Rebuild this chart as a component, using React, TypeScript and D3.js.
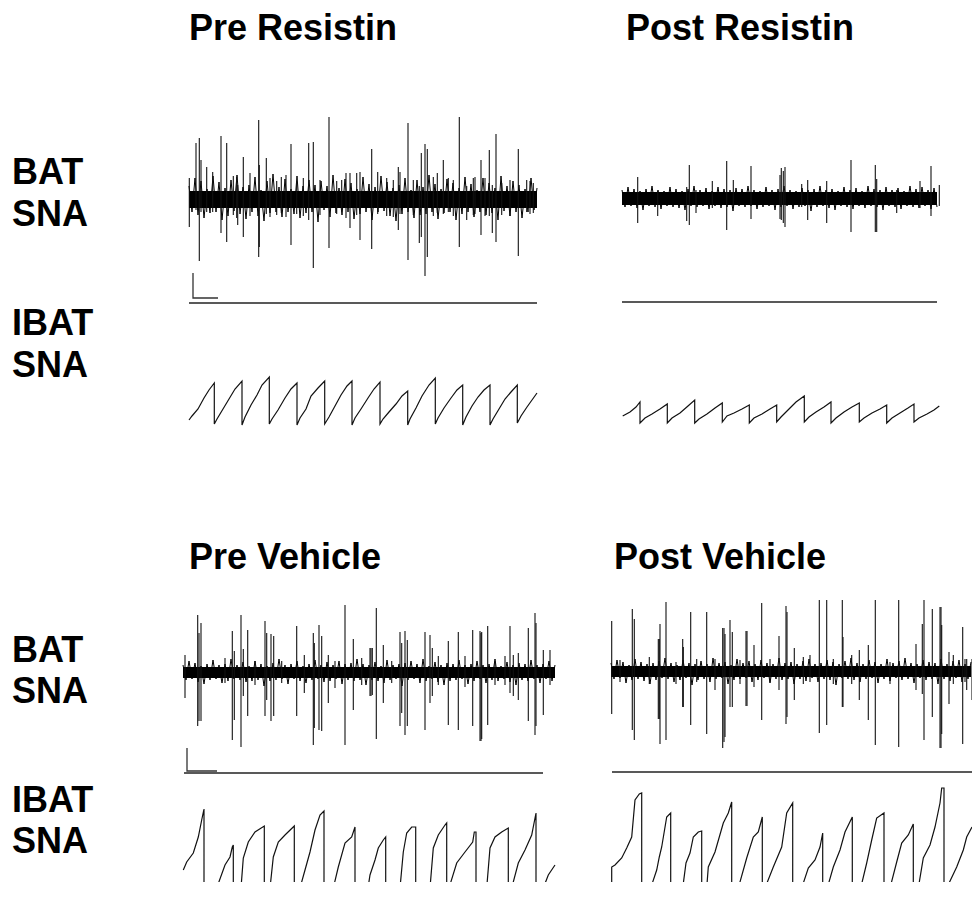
import React, { useEffect, useRef } from 'react';
import * as d3 from 'd3';

const W = 972;
const H = 899;
const DT = 0.3; // s between noise samples

const titles = ['Pre Resistin', 'Post Resistin', 'Pre Vehicle', 'Post Vehicle'];
const rowLabels = [['BAT', 'SNA'], ['IBAT', 'SNA']];

// BAT SNA background noise (µV), one sample every DT
const preResistinNoise = [
  14, -12, 22, -15, 19, -18, 11, -13, 24, -12,
  18, -20, 12, -16, 20, -11, 25, -14, 13, -19,
  15, -12, 23, -16, 10, -21, 19, -13, 26, -12,
  13, -17, 21, -12, 11, -14, 24, -18, 14, -13,
  20, -12, 15, -22, 19, -10, 14, -17, 25, -13,
  12, -15, 21, -12, 17, -19, 11, -14, 23, -12,
  16, -20, 13, -12, 24, -11, 18, -16, 12, -21,
  15, -14, 22, -12, 10, -18, 20, -15, 13, -14,
  25, -12, 16, -19, 11, -13, 21, -12, 17, -20,
  12, -14, 23, -12, 16, -17, 10, -12, 22, -15,
  17, -13, 12, -20, 24, -11, 14, -16, 19, -12,
  15, -18, 11, -12, 22, -10, 12,
];
const postResistinNoise = [
  9, -8, 12, -7, 10, -9, 8, -11, 10, -7,
  13, -8, 9, -10, 8, -7, 12, -8, 10, -9,
  8, -11, 10, -7, 13, -8, 9, -7, 11, -10,
  8, -7, 12, -9, 10, -8, 9, -12, 11, -7,
  10, -8, 13, -7, 9, -10, 8, -8, 12, -7,
  9, -11, 10, -8, 13, -7, 9, -10, 8, -8,
  11, -7, 9, -12, 10, -8, 13, -7, 9, -9,
  10, -11, 8, -7, 12, -8, 9, -10, 11, -7,
  8, -9, 13, -7, 10, -8, 9, -11, 12, -7,
  9, -8, 11, -10, 8, -7, 13, -8, 10, -9,
  12, -7, 9, -10, 11, -8,
];
const preVehicleNoise = [
  8, -7, 12, -6, 10, -9, 7, -11, 9, -7,
  13, -6, 8, -10, 9, -8, 14, -6, 8, -7,
  11, -9, 7, -8, 12, -7, 9, -13, 7, -8,
  10, -7, 14, -6, 8, -11, 9, -6, 12, -8,
  7, -10, 9, -7, 13, -6, 8, -9, 11, -8,
  8, -6, 12, -11, 9, -7, 10, -8, 14, -7,
  9, -12, 8, -7, 11, -8, 7, -10, 13, -7,
  8, -6, 9, -13, 10, -7, 12, -6, 9, -10,
  14, -8, 7, -6, 11, -9, 8, -12, 10, -8,
  9, -7, 13, -6, 8, -11, 9, -8, 12, -6,
  8, -10, 9, -7, 14, -8, 7, -6, 11, -9,
  8, -12, 10, -7, 9, -8, 13, -6, 8, -10,
  9, -6, 12, -8, 8,
];
const postVehicleNoise = [
  9, -7, 12, -6, 10, -11, 7, -8, 13, -7,
  10, -9, 8, -12, 9, -8, 11, -6, 14, -7,
  9, -10, 7, -8, 12, -6, 9, -13, 8, -8,
  11, -7, 8, -10, 14, -7, 9, -6, 10, -12,
  7, -8, 13, -7, 9, -6, 11, -10, 8, -8,
  12, -6, 9, -11, 8, -7, 14, -8, 9, -7,
  10, -12, 8, -7, 11, -9, 13, -6, 8, -10,
  9, -7, 12, -8, 10, -13, 8, -6, 11, -7,
  14, -8, 9, -10, 8, -7, 12, -6, 10, -11,
  8, -7, 13, -9, 9, -6, 11, -8, 14, -7,
  9, -11, 8, -6, 12, -8, 10, -7, 9, -12,
  13, -7, 8, -9, 11, -6, 12, -10, 8, -7,
  10,
];

// BAT SNA spikes [t (s), up (µV), down (µV)]
const preResistinSpikes = [
  [0.03, 22, 27], [0.7, 57, 10], [1.03, 62, 61], [1.2, 40, 12], [1.77, 33, 12],
  [2.37, 28, 12], [3.2, 64, 33], [3.77, 57, 42], [4.43, 24, 15], [4.77, 23, 18],
  [4.87, 15, 25], [5.43, 43, 37], [6.1, 27, 16], [6.97, 80, 57], [7.03, 35, 47],
  [7.73, 42, 14], [8.1, 22, 17], [8.77, 19, 15], [9.23, 23, 13], [9.7, 25, 17],
  [10.2, 56, 45], [10.77, 19, 14], [11.43, 22, 16], [11.97, 57, 20], [12.43, 58, 68],
  [13.1, 20, 15], [14.0, 83, 48], [14.77, 19, 14], [15.27, 20, 12], [15.7, 27, 18],
  [16.1, 27, 28], [16.77, 27, 15], [17.1, 28, 40], [18.27, 51, 49], [18.87, 28, 14],
  [19.77, 22, 16], [20.43, 20, 17], [20.93, 33, 30], [21.1, 28, 14], [21.9, 77, 60],
  [22.43, 20, 15], [23.03, 14, 43], [23.23, 47, 37], [23.6, 56, 76], [23.83, 51, 57],
  [24.43, 23, 16], [24.83, 27, 13], [25.43, 40, 14], [25.93, 22, 12], [26.43, 20, 16],
  [27.03, 83, 47], [27.77, 14, 20], [28.43, 22, 15], [28.6, 23, 14], [29.2, 40, 35],
  [29.6, 22, 16], [30.03, 50, 16], [30.33, 15, 33], [30.7, 66, 42], [31.27, 17, 15],
  [32.1, 20, 16], [32.93, 51, 56], [33.77, 20, 12], [34.1, 19, 14], [34.43, 17, 13],
];
const postResistinSpikes = [
  [1.57, 22, 24], [3.57, 8, 17], [6.47, 12, 22], [6.73, 34, 26], [7.4, 9, 14],
  [9.03, 18, 9], [10.47, 38, 31], [11.13, 19, 8], [12.9, 33, 20], [15.8, 24, 20],
  [15.93, 31, 21], [16.13, 28, 24], [16.3, 32, 28], [17.97, 15, 8], [18.57, 19, 21],
  [20.47, 18, 24], [22.9, 39, 33], [25.33, 34, 33], [25.47, 20, 33], [27.47, 9, 14],
  [29.8, 18, 9], [30.9, 33, 17], [31.73, 14, 7],
];
const preVehicleSpikes = [
  [0.2, 18, 25], [1.47, 58, 53], [1.6, 40, 48], [1.8, 50, 48], [4.2, 15, 10],
  [4.93, 42, 67], [5.13, 22, 47], [5.8, 58, 74], [6.03, 24, 23], [6.47, 43, 43],
  [7.2, 12, 12], [8.2, 52, 43], [8.37, 40, 27], [8.8, 39, 48], [9.07, 37, 43],
  [9.87, 12, 10], [11.37, 47, 43], [12.13, 18, 20], [13.03, 40, 72], [13.13, 30, 55],
  [13.6, 48, 57], [13.87, 37, 58], [14.53, 18, 30], [15.2, 12, 15], [16.2, 68, 72],
  [17.03, 34, 37], [17.87, 15, 12], [18.7, 25, 23], [18.8, 25, 23], [18.93, 25, 22],
  [19.33, 65, 66], [20.03, 28, 30], [20.87, 12, 10], [21.7, 41, 53], [21.87, 30, 40],
  [22.2, 42, 62], [22.43, 33, 53], [24.2, 41, 57], [24.7, 38, 30], [24.93, 25, 23],
  [25.53, 17, 12], [26.53, 32, 52], [27.53, 41, 57], [28.2, 17, 14], [28.97, 43, 53],
  [29.7, 42, 68], [29.8, 40, 68], [29.87, 41, 66], [30.47, 47, 52], [31.2, 12, 12],
  [32.2, 17, 12], [32.7, 47, 20], [33.03, 18, 23], [33.53, 20, 27], [34.53, 45, 48],
  [35.2, 60, 62], [35.3, 50, 53], [36.03, 23, 42], [36.7, 23, 12],
];
const postVehicleSpikes = [
  [0.07, 51, 42], [0.9, 12, 10], [2.13, 63, 58], [2.33, 53, 68], [3.83, 15, 12],
  [4.73, 33, 47], [4.83, 33, 47], [4.9, 48, 72], [5.5, 70, 68], [6.5, 10, 12],
  [7.17, 33, 35], [7.23, 25, 35], [7.97, 60, 53], [8.57, 13, 10], [9.57, 60, 62],
  [10.4, 13, 18], [11.17, 44, 76], [11.3, 44, 70], [11.4, 38, 65], [11.9, 52, 35],
  [12.13, 40, 35], [12.9, 12, 12], [13.5, 41, 34], [13.6, 41, 34], [14.3, 27, 15],
  [15.07, 69, 48], [15.9, 13, 10], [16.8, 36, 18], [17.5, 66, 52], [17.6, 60, 45],
  [18.33, 24, 28], [19.23, 15, 12], [19.9, 17, 10], [20.83, 72, 61], [21.57, 72, 53],
  [22.23, 13, 12], [23.13, 72, 35], [23.2, 35, 35], [24.07, 17, 12], [24.83, 22, 28],
  [25.73, 27, 48], [26.43, 72, 73], [27.9, 10, 12], [28.77, 72, 75], [30.5, 28, 18],
  [31.13, 48, 22], [31.3, 72, 68], [32.13, 63, 45], [32.9, 65, 76], [33.0, 65, 76],
  [33.07, 47, 62], [33.8, 20, 32], [34.23, 17, 12], [35.17, 45, 72], [35.4, 13, 10],
  [35.57, 13, 18], [36.1, 13, 28],
];

// solid noise core of each BAT trace [up, down] (µV)
const preResistinCore = [9, 8];
const postResistinCore = [7, 6];
const preVehicleCore = [6, 5];
const postVehicleCore = [6, 5];

// integrated IBAT SNA [t (s), value]
const preResistinInt = [
  [0, 5], [0.3, 9], [0.9, 16], [1.5, 27], [2.0, 35], [2.53, 42], [2.53, 1],
  [2.8, 6], [3.4, 16], [4.0, 26], [4.6, 36], [5.3, 44], [5.3, 0],
  [5.6, 8], [6.2, 20], [6.8, 30], [7.3, 40], [8.03, 48], [8.03, 1],
  [8.3, 6], [8.9, 15], [9.6, 27], [10.2, 36], [10.8, 42], [10.8, 0],
  [11.1, 7], [11.7, 16], [12.2, 29], [12.9, 37], [13.57, 44], [13.57, 1],
  [14.0, 8], [14.6, 19], [15.2, 30], [15.8, 39], [16.3, 44], [16.3, 0],
  [16.6, 7], [17.2, 16], [17.9, 27], [18.5, 36], [19.1, 43], [19.1, 1],
  [19.4, 6], [20.0, 13], [20.7, 21], [21.3, 29], [21.87, 34], [21.87, 0],
  [22.1, 6], [22.7, 17], [23.3, 29], [24.0, 40], [24.63, 47], [24.63, 1],
  [24.9, 7], [25.5, 17], [26.2, 27], [26.8, 35], [27.37, 40], [27.37, 0],
  [27.7, 8], [28.3, 19], [28.9, 28], [29.5, 35], [30.1, 40], [30.1, 0],
  [30.4, 6], [31.0, 16], [31.6, 26], [32.2, 33], [32.83, 40], [32.83, 2],
  [33.2, 9], [33.8, 18], [34.3, 25], [34.8, 32],
];
const postResistinInt = [
  [0.07, 9], [0.8, 13], [1.4, 18], [1.8, 23], [1.8, 2],
  [2.3, 7], [3.0, 11], [3.8, 16], [4.53, 21], [4.53, 2],
  [5.0, 7], [5.8, 12], [6.6, 19], [7.27, 25], [7.27, 2],
  [7.7, 6], [8.5, 11], [9.3, 17], [10.03, 22], [10.03, 3],
  [10.5, 9], [11.2, 12], [12.0, 16], [12.73, 20], [12.73, 2],
  [13.2, 7], [14.0, 11], [14.8, 16], [15.47, 20], [15.47, 3],
  [15.9, 8], [16.6, 15], [17.4, 23], [18.23, 29], [18.23, 3],
  [18.7, 8], [19.4, 13], [20.2, 18], [20.9, 23], [20.9, 2],
  [21.4, 7], [22.2, 13], [23.0, 18], [23.73, 22], [23.73, 3],
  [24.2, 7], [25.0, 12], [25.8, 16], [26.47, 20], [26.47, 2],
  [27.0, 7], [27.8, 12], [28.6, 17], [29.2, 21], [29.2, 3],
  [29.7, 7], [30.5, 11], [31.2, 15], [31.73, 19],
];
const preVehicleInt = [
  [0.03, 10], [0.37, 18], [1.03, 27], [1.53, 43], [1.87, 60], [2.1, 71], [2.1, -8],
  [3.37, -8], [4.2, 15], [4.7, 23], [4.93, 33], [5.03, 35], [5.03, -8],
  [5.8, -8], [6.03, 22], [6.53, 38], [7.2, 48], [8.13, 54], [8.13, -8],
  [8.7, -8], [9.03, 23], [9.53, 38], [10.2, 45], [11.13, 54], [11.13, -8],
  [11.7, -8], [12.2, 10], [12.7, 28], [13.2, 50], [13.7, 65], [14.1, 69], [14.1, -8],
  [15.03, -8], [15.53, 13], [16.2, 37], [16.87, 43], [17.2, 53], [17.2, -8],
  [18.5, -8], [18.7, 5], [19.2, 20], [19.53, 32], [20.03, 40], [20.27, 43], [20.27, -8],
  [21.7, -8], [22.03, 28], [22.37, 47], [22.87, 53], [23.27, 53], [23.27, -8],
  [24.7, -8], [25.03, 32], [25.53, 45], [26.2, 55], [26.37, 57], [26.37, -8],
  [26.6, -8], [27.37, 17], [28.2, 28], [28.97, 38], [29.13, 48], [29.3, 48], [29.3, -8],
  [30.37, -8], [30.7, 32], [31.2, 43], [31.87, 48], [32.53, 52], [32.53, -8],
  [32.87, -8], [33.53, 17], [34.2, 30], [34.87, 45], [35.3, 67], [35.3, -8],
  [36.03, -8], [36.53, 5], [37.2, 15],
];
const postVehicleInt = [
  [0.07, -8], [0.07, 13], [0.4, 15], [1.07, 22], [1.57, 32], [2.07, 43], [2.4, 80], [2.83, 86], [3.07, 87], [3.07, -8],
  [3.97, -8], [4.57, 10], [4.83, 23], [5.07, 33], [5.57, 63], [5.97, 67], [5.97, -8],
  [7.17, -8], [7.5, 17], [7.9, 27], [8.23, 43], [8.73, 48], [9.07, 49], [9.07, -8],
  [9.57, -8], [9.73, 13], [10.4, 28], [11.23, 57], [11.73, 67], [12.07, 78], [12.07, -8],
  [12.73, -8], [13.57, 22], [14.23, 43], [14.73, 48], [15.13, 63], [15.13, -8],
  [15.4, -8], [16.23, 13], [17.07, 33], [17.57, 67], [18.17, 77], [18.17, -8],
  [19.07, -8], [19.73, 12], [20.4, 20], [20.9, 33], [21.17, 47], [21.17, -8],
  [21.63, -8], [22.23, 13], [22.9, 30], [23.4, 48], [24.13, 63], [24.13, -8],
  [24.97, -8], [25.57, 17], [26.07, 40], [26.57, 62], [27.3, 67], [27.3, -8],
  [27.9, -8], [28.57, 18], [29.07, 37], [29.73, 45], [30.23, 56], [30.23, -8],
  [30.73, -8], [31.23, 22], [31.9, 35], [32.4, 53], [32.9, 77], [33.07, 92], [33.3, 92], [33.3, -8],
  [33.57, -8], [34.57, 13], [35.23, 30], [35.57, 43], [36.1, 53],
];

// scale bars [µV, s]
const preResistinBar = [25, 2.5];
const preVehicleBar = [23, 3];

const FONT = '"Liberation Sans", Arial, Helvetica, sans-serif';

const panels = [
  { noise: preResistinNoise, spikes: preResistinSpikes, core: preResistinCore, integ: preResistinInt,
    bar: preResistinBar, x0: 189, cy: 200, lineY: 303, lineEnd: null, intBase: 425, intClip: null },
  { noise: postResistinNoise, spikes: postResistinSpikes, core: postResistinCore, integ: postResistinInt,
    bar: null, x0: 622, cy: 199, lineY: 302, lineEnd: null, intBase: 425, intClip: null },
  { noise: preVehicleNoise, spikes: preVehicleSpikes, core: preVehicleCore, integ: preVehicleInt,
    bar: preVehicleBar, x0: 183, cy: 673, lineY: 773, lineEnd: 36.0, intBase: 880, intClip: 882 },
  { noise: postVehicleNoise, spikes: postVehicleSpikes, core: postVehicleCore, integ: postVehicleInt,
    bar: null, x0: 611, cy: 672, lineY: 772, lineEnd: 36.1, intBase: 880, intClip: 882 },
];

export default function App() {
  const ref = useRef<SVGSVGElement>(null);

  useEffect(() => {
    const svg = d3.select(ref.current);
    svg.selectAll('*').remove();

    svg.append('rect').attr('width', W).attr('height', H).attr('fill', '#fff');

    const defs = svg.append('defs');

    panels.forEach((p, k) => {
      const n = p.noise.length;
      const tEnd = (n - 1) * DT;
      const x = d3.scaleLinear().domain([0, tEnd]).range([p.x0, p.x0 + (n - 1) * 3]);
      const y = d3.scaleLinear().domain([-100, 100]).range([p.cy + 100, p.cy - 100]);

      const g = svg.append('g').attr('class', 'panel-' + k);

      // solid noise core
      g.append('rect')
        .attr('x', x(0))
        .attr('y', y(p.core[0]))
        .attr('width', x(tEnd) - x(0))
        .attr('height', y(-p.core[1]) - y(p.core[0]))
        .attr('fill', '#000');

      // background noise
      const line = d3.line<number>()
        .x((d, i) => x(i * DT))
        .y(d => y(d));
      g.append('path')
        .datum(p.noise)
        .attr('d', line)
        .attr('fill', 'none')
        .attr('stroke', '#000')
        .attr('stroke-width', 1);

      // spikes
      g.selectAll('line.spike')
        .data(p.spikes)
        .enter()
        .append('line')
        .attr('class', 'spike')
        .attr('x1', d => x(d[0])).attr('x2', d => x(d[0]))
        .attr('y1', d => y(d[1])).attr('y2', d => y(-d[2]))
        .attr('stroke', '#111')
        .attr('stroke-width', 1.1);

      // scale bar
      if (p.bar) {
        const bx = x(0.4);
        const by = y(-98);
        g.append('path')
          .attr('d', `M${bx},${y(-98 + p.bar[0])}V${by}H${x(0.4 + p.bar[1])}`)
          .attr('fill', 'none')
          .attr('stroke', '#333')
          .attr('stroke-width', 1.3);
      }

      // horizontal reference line
      const lEnd = p.lineEnd == null ? tEnd : p.lineEnd;
      g.append('line')
        .attr('x1', x(p.lineEnd == null ? 0 : 0.1)).attr('x2', x(lEnd))
        .attr('y1', y(p.cy - p.lineY)).attr('y2', y(p.cy - p.lineY))
        .attr('stroke', '#222')
        .attr('stroke-width', 1.4);

      // integrated trace
      const yi = d3.scaleLinear().domain([0, 50]).range([p.intBase, p.intBase - 50]);
      const ig = g.append('g');
      if (p.intClip) {
        const id = 'clip-' + k;
        defs.append('clipPath').attr('id', id)
          .append('rect').attr('x', 0).attr('y', 0).attr('width', W).attr('height', p.intClip);
        ig.attr('clip-path', `url(#${id})`);
      }
      const iline = d3.line<number[]>()
        .x(d => x(d[0]))
        .y(d => yi(d[1]));
      ig.append('path')
        .datum(p.integ)
        .attr('d', iline)
        .attr('fill', 'none')
        .attr('stroke', '#111')
        .attr('stroke-width', 1.2);
    });

    // titles
    const titlePos = [[189, 40], [626, 40], [189, 569], [614, 569]];
    titles.forEach((t, i) => {
      svg.append('text')
        .attr('x', titlePos[i][0]).attr('y', titlePos[i][1])
        .attr('font-family', FONT).attr('font-weight', 'bold').attr('font-size', 36)
        .text(t);
    });

    // row labels
    const labelBase = [[184, 226], [335, 377], [662, 703], [812, 853]];
    labelBase.forEach((b, i) => {
      const lab = rowLabels[i % 2];
      lab.forEach((s, j) => {
        svg.append('text')
          .attr('x', 12).attr('y', b[j])
          .attr('font-family', FONT).attr('font-weight', 'bold').attr('font-size', 36)
          .text(s);
      });
    });
  }, []);

  return (
    <svg ref={ref} width={W} height={H}
      style={{ position: 'absolute', left: 0, top: 0, display: 'block' }} />
  );
}
